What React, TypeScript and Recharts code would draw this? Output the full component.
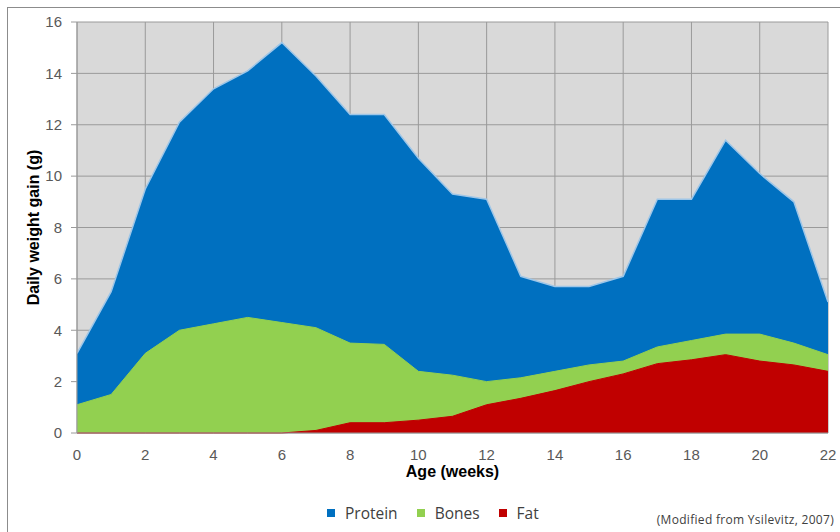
import { AreaChart, Area, XAxis, YAxis, CartesianGrid } from 'recharts'

// values; each series is the top edge of its band (stacked figure)
const weeks = [0, 1, 2, 3, 4, 5, 6, 7, 8, 9, 10, 11, 12, 13, 14, 15, 16, 17, 18, 19, 20, 21, 22]
const proteinTop = [3.1, 5.5, 9.5, 12.1, 13.4, 14.1, 15.2, 13.9, 12.4, 12.4, 10.7, 9.3, 9.1, 6.1, 5.7, 5.7, 6.1, 9.1, 9.1, 11.4, 10.1, 9.0, 5.1]
const bonesTop = [1.1, 1.5, 3.1, 4.0, 4.25, 4.5, 4.3, 4.1, 3.5, 3.45, 2.4, 2.25, 2.0, 2.15, 2.4, 2.65, 2.8, 3.35, 3.6, 3.85, 3.85, 3.5, 3.05]
const fatTop = [0, 0, 0, 0, 0, 0, 0, 0.1, 0.4, 0.4, 0.5, 0.65, 1.1, 1.35, 1.65, 2.0, 2.3, 2.7, 2.85, 3.05, 2.8, 2.65, 2.4]

const xTicks = [0, 2, 4, 6, 8, 10, 12, 14, 16, 18, 20, 22]
const yTicks = [0, 2, 4, 6, 8, 10, 12, 14, 16]

const series = [
  { key: 'protein', name: 'Protein', color: '#0070c0' },
  { key: 'bones', name: 'Bones', color: '#92d050' },
  { key: 'fat', name: 'Fat', color: '#c00000' },
]

const data = weeks.map((w, i) => ({
  week: w,
  protein: proteinTop[i],
  bones: bonesTop[i],
  fat: fatTop[i],
}))

const tickStyle = { fontSize: 15, fill: '#595959', fontFamily: 'Liberation Sans, Arial, sans-serif' }
const titleStyle = { fontSize: 16, fontWeight: 'bold', fill: '#000', fontFamily: 'Liberation Sans, Arial, sans-serif' }

export default function App() {
  return (
    <div style={{ position: 'absolute', left: 0, top: 0, width: 840, height: 532, background: '#fff' }}>
      <div
        style={{
          position: 'absolute',
          left: 7,
          top: 7,
          right: 0,
          bottom: 0,
          borderTop: '1px solid #8c8c8c',
          borderLeft: '1px solid #8c8c8c',
        }}
      />
      <AreaChart width={840} height={532} data={data} margin={{ top: 22, right: 12, bottom: 54, left: 7 }}>
        <CartesianGrid fill="#d9d9d9" stroke="#9a9a9a" vertical horizontal />
        <XAxis
          dataKey="week"
          type="number"
          domain={[0, 22]}
          ticks={xTicks}
          tick={tickStyle}
          tickLine={false}
          axisLine={{ stroke: '#9a9a9a' }}
          tickMargin={10}
          height={45}
          label={{ value: 'Age (weeks)', position: 'insideBottom', offset: 1, style: titleStyle }}
        />
        <YAxis
          type="number"
          domain={[0, 16]}
          ticks={yTicks}
          tick={tickStyle}
          tickLine={{ stroke: '#9a9a9a' }}
          axisLine={{ stroke: '#9a9a9a' }}
          tickMargin={9}
          width={70}
          label={{
            value: 'Daily weight gain (g)',
            angle: -90,
            position: 'insideLeft',
            offset: 26,
            style: { ...titleStyle, textAnchor: 'middle' },
          }}
        />
        <Area
          type="linear"
          dataKey="protein"
          name="Protein"
          fill="#0070c0"
          fillOpacity={1}
          stroke="#9ec6e8"
          strokeWidth={1.5}
          isAnimationActive={false}
        />
        <Area
          type="linear"
          dataKey="bones"
          name="Bones"
          fill="#92d050"
          fillOpacity={1}
          stroke="#92d050"
          strokeWidth={1}
          isAnimationActive={false}
        />
        <Area
          type="linear"
          dataKey="fat"
          name="Fat"
          fill="#c00000"
          fillOpacity={1}
          stroke="#c00000"
          strokeWidth={1}
          isAnimationActive={false}
        />
      </AreaChart>
      <div
        style={{
          position: 'absolute',
          top: 502,
          left: 327,
          display: 'flex',
          fontFamily: 'Open Sans, sans-serif',
          fontSize: 15.5,
          color: '#404040',
        }}
      >
        {series.map(s => (
          <div key={s.key} style={{ display: 'flex', alignItems: 'center', marginRight: 19 }}>
            <span style={{ display: 'inline-block', width: 8, height: 8, background: s.color, marginRight: 10 }} />
            <span>{s.name}</span>
          </div>
        ))}
      </div>
      <div
        style={{
          position: 'absolute',
          top: 511,
          right: 6,
          fontFamily: 'Open Sans, sans-serif',
          fontSize: 12,
          letterSpacing: 0.3,
          color: '#404040',
        }}
      >
        (Modified from Ysilevitz, 2007)
      </div>
    </div>
  )
}
